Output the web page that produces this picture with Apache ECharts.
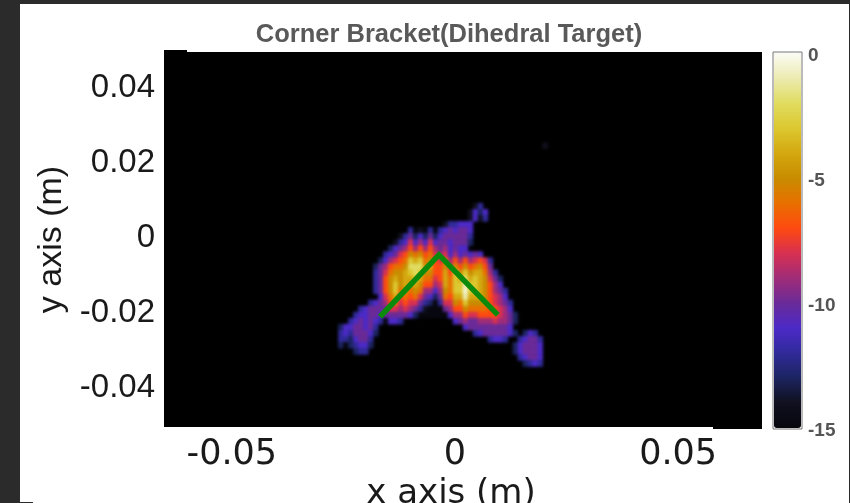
<!DOCTYPE html>
<html><head><meta charset="utf-8">
<script src="https://cdn.jsdelivr.net/npm/echarts@6/dist/echarts.min.js"></script>
<style>
html,body{margin:0;padding:0;width:850px;height:503px;overflow:hidden;background:#2b2b2b}
#paper{position:absolute;left:20px;top:4px;width:829px;height:499px;background:#fff}
#plotClip{position:absolute;left:164px;top:52px;width:598px;height:375px;overflow:hidden;background:#000}
#heat{width:598px;height:375px;filter:blur(1.4px)}
#top{position:absolute;left:0;top:0;width:850px;height:503px;filter:blur(0.35px)}
</style></head><body>
<div id="paper"></div>
<div id="plotClip"><div id="heat"></div></div>
<div id="top"></div>
<script>
const titleText = 'Corner Bracket(Dihedral Target)';
const xAxisName = 'x axis (m)';
const yAxisName = 'y axis (m)';
const xTicks = [-0.05, 0, 0.05];
const yTicks = [-0.04, -0.02, 0, 0.02, 0.04];
const colorStops = ['#07070f','#10101e','#1c2460','#302a9a','#4c2ac8','#6a2a98','#a02c78','#d83050','#ff4a10','#e87000','#c88c00','#d4a810','#dcc830','#e0dc60','#ecebb0','#fbfbf6'];
const bracketLine = [[-0.0168,-0.021],[-0.0036,-0.0045],[0.0096,-0.0205]];
const columnCount = 120, rowCount = 62;
// [row (top-down), first column, dB values...]
const heatRows = [
[15,76,-14],
[25,62,-14,-12],
[26,61,-14,-11,-13,-11],
[27,61,-14,-11,-14,-12],
[28,56,-14,-12,-12,-11,-11,-11],
[29,49,-12,-15,-14,-15,-12,-15,-12,-11,-10,-11,-10,-10,-11],
[30,47,-14,-12,-10,-13,-11,-13,-10,-13,-11,-10,-10,-10,-10,-10,-12],
[31,46,-14,-12,-11,-8,-11,-9,-11,-8,-11,-10,-10,-11,-10,-10,-10,-13],
[32,45,-13,-11,-10,-9,-7,-9,-7,-9,-7,-9,-10,-9,-11,-10,-11,-11],
[33,44,-12,-11,-10,-8,-7,-5,-6,-5,-7,-6,-8,-9,-8,-11,-9,-11,-10,-11,-10,-11],
[34,43,-13,-11,-9,-8,-7,-6,-3,-4,-3,-6,-5,-7,-8,-6,-9,-7,-9,-7,-9,-8,-7,-8,-12],
[35,42,-13,-10,-9,-7,-6,-6,-5,-2,-2,-2,-5,-4,-7,-7,-5,-8,-5,-7,-5,-7,-6,-5,-7,-10],
[36,42,-12,-10,-8,-6,-5,-5,-4,-3,-2,-3,-5,-5,-7,-7,-4,-7,-3,-5,-3,-5,-4,-4,-6,-9,-12],
[37,42,-12,-10,-7,-5,-4,-5,-4,-4,-3,-4,-6,-6,-8,-7,-4,-6,-3,-4,-2,-4,-3,-4,-5,-8,-10,-13],
[38,42,-12,-10,-7,-5,-3,-5,-4,-5,-4,-5,-7,-7,-9,-8,-4,-6,-3,-3,-1,-3,-3,-4,-5,-7,-9,-11],
[39,42,-12,-10,-7,-5,-3,-6,-5,-6,-5,-6,-9,-9,-11,-9,-5,-6,-3,-3,-0.5,-3,-3,-4,-5,-7,-9,-10,-12],
[40,43,-11,-8,-6,-4,-7,-6,-7,-6,-8,-10,-11,-13,-10,-6,-7,-4,-4,-1,-4,-4,-4,-5,-7,-8,-9,-11],
[41,41,-12,-11,-10,-9,-7,-6,-8,-7,-8,-8,-10,-12,-13,-15,-12,-8,-8,-5,-6,-3,-5,-5,-5,-5,-7,-8,-9,-10,-12],
[42,39,-12,-11,-10,-10,-10,-10,-8,-8,-9,-8,-9,-10,-12,-14,-15,-15,-15,-10,-9,-7,-7,-5,-6,-6,-6,-6,-7,-7,-8,-9,-11],
[43,38,-12,-11,-11,-10,-10,-11,-10,-10,-10,-10,-10,-11,-13,-15,-15,-15,-15,-15,-15,-11,-9,-9,-7,-8,-8,-7,-7,-7,-7,-8,-9,-10,-13],
[44,37,-12,-11,-10,-11,-10,-11,-12,-15,-11,-11,-12],
[44,58,-11,-10,-9,-10,-10,-9,-9,-9,-8,-9,-9,-10,-13],
[45,35,-13,-11,-11,-10,-10,-11,-10,-12],[45,60,-11,-10,-10,-10,-10,-10,-10,-10,-10,-11],
[46,35,-12,-11,-12,-10,-10,-10,-11,-13],[46,62,-12,-11,-10,-10,-10,-10,-10,-11,-13],[46,72,-13,-11,-12],
[47,35,-12,-12,-13,-11,-10,-10,-12],[47,65,-12,-11,-11,-12],[47,71,-12,-11,-10,-10,-12],
[48,35,-13,-15,-13,-12,-11,-11,-13],[48,70,-13,-11,-10,-10,-10,-11],
[49,38,-13,-12,-12],[49,70,-13,-11,-10,-10,-10,-11],
[50,71,-12,-11,-10,-10,-11],
[51,72,-13,-12,-11,-12]
];
const xCategories = Array.from({length: columnCount}, (_, i) => i);
const yCategories = Array.from({length: rowCount}, (_, i) => i);
const heatData = [];
heatRows.forEach(r => {
  for (let k = 2; k < r.length; k++) heatData.push([r[1] + k - 2, r[0], r[k]]);
});

const heat = echarts.init(document.getElementById('heat'), null, {renderer:'canvas'});
heat.setOption({
  animation:false,
  backgroundColor:'#000',
  grid:{left:0,right:0,top:0,bottom:0,outerBoundsMode:'none'},
  xAxis:{type:'category',data:xCategories,show:false},
  yAxis:{type:'category',data:yCategories,show:false,inverse:true},
  visualMap:{show:false,min:-15,max:0,dimension:2,inRange:{color:colorStops}},
  series:[{type:'heatmap',data:heatData,progressive:0,itemStyle:{borderWidth:0}}]
});

const chart = echarts.init(document.getElementById('top'), null, {renderer:'canvas'});
chart.setOption({
  animation:false,
  backgroundColor:'transparent',
  title:{text:titleText,left:444,top:17,textAlign:'center',
    textStyle:{color:'#595959',fontWeight:'bold',fontFamily:'Liberation Sans',fontSize:25.5}},
  grid:[
    {left:164,top:52,width:598,height:375,show:false,outerBoundsMode:'none'},
    {left:774,top:56,width:27,height:375,show:false,outerBoundsMode:'none'}
  ],
  xAxis:[
    {type:'value',gridIndex:0,min:-0.0652,max:0.0688,splitLine:{show:false},
     axisLine:{show:false},axisTick:{show:false},
     axisLabel:{customValues:xTicks,margin:10,color:'#1a1a1a',fontFamily:'DejaVu Sans',fontSize:35,
       formatter:v=>String(v)},
     name:xAxisName,nameLocation:'middle',nameGap:48,
     nameTextStyle:{color:'#1a1a1a',fontFamily:'DejaVu Sans',fontSize:34,padding:[0,24,0,0]}},
    {type:'value',gridIndex:1,show:false,min:0,max:1}
  ],
  yAxis:[
    {type:'value',gridIndex:0,min:-0.0504,max:0.0496,splitLine:{show:false},
     axisLine:{show:false},axisTick:{show:false},
     axisLabel:{customValues:yTicks,margin:9,color:'#1a1a1a',fontFamily:'Liberation Sans',fontSize:33,
       padding:[4,0,0,0],formatter:v=>String(v)},
     name:yAxisName,nameLocation:'middle',nameGap:95,
     nameTextStyle:{color:'#1a1a1a',fontFamily:'Liberation Sans',fontSize:34}},
    {type:'value',gridIndex:1,position:'right',min:-15,max:0,interval:5,splitLine:{show:false},
     axisLine:{show:false},axisTick:{show:false},
     axisLabel:{margin:7,color:'#555',fontWeight:'bold',fontFamily:'Liberation Sans',fontSize:19,
       formatter:v=>String(v)}}
  ],
  visualMap:{show:true,type:'continuous',min:-15,max:0,left:774,top:53,itemWidth:27,itemHeight:375,
    seriesIndex:1,calculable:false,showLabel:false,text:null,padding:0,borderWidth:0,
    inRange:{color:colorStops},hoverLink:false},
  series:[
    {type:'line',xAxisIndex:0,yAxisIndex:0,data:bracketLine,symbol:'none',
     lineStyle:{color:'#0b8a0b',width:5.5,cap:'butt',join:'miter'},z:5},
    {type:'scatter',xAxisIndex:1,yAxisIndex:1,data:[],symbolSize:0}
  ],
  graphic:[
    {type:'rect',z:100,shape:{x:164,y:50,width:23,height:3},style:{fill:'#000'}},
    {type:'rect',z:100,shape:{x:713,y:427,width:49,height:2},style:{fill:'#000'}},
    {type:'rect',z:100,shape:{x:20,y:427,width:167,height:50},style:{fill:'#fff'}},
    {type:'rect',z:100,shape:{x:716,y:429,width:40,height:42},style:{fill:'#fff'}},
    {type:'rect',z:100,shape:{x:20,y:502,width:13,height:1},style:{fill:'#2b2b2b'}},
    {type:'rect',z:100,shape:{x:773,y:52,width:29,height:377},style:{fill:'none',stroke:'#777',lineWidth:1}}
  ]
});
</script></body></html>
